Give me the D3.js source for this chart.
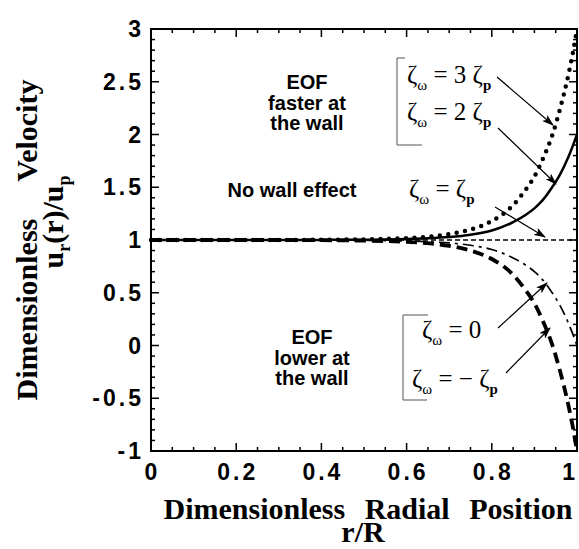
<!DOCTYPE html>
<html>
<head>
<meta charset="utf-8">
<script src="https://cdn.jsdelivr.net/npm/d3@7"></script>
<style>
  body { margin: 0; background: #fff; }
  svg { display: block; }
  .tick-label { font-family: "Liberation Sans", Arial, sans-serif; font-weight: bold; font-size: 23px; letter-spacing: 3px; }
  .axis-title { font-family: "Liberation Serif", "Times New Roman", serif; font-weight: bold; font-size: 30px; }
  .note { font-family: "Liberation Sans", Arial, sans-serif; font-weight: bold; font-size: 20px; }
  .zeta { font-family: "Liberation Serif", "Times New Roman", serif; font-size: 25px; }
</style>
</head>
<body>
<div id="chart"></div>
<script>
// radial positions r/R
var radius = [0, 0.1, 0.2, 0.3, 0.4, 0.5, 0.6, 0.65, 0.7, 0.75, 0.8, 0.85, 0.88, 0.9, 0.92, 0.94, 0.96, 0.98, 0.99, 1];

// velocity u_r(r)/u_p
var zeta3p  = [1, 1, 1, 1, 1.002, 1.006, 1.018, 1.03, 1.056, 1.1, 1.18, 1.33, 1.48, 1.6, 1.77, 1.97, 2.24, 2.57, 2.77, 3];
var zeta2p  = [1, 1, 1, 1, 1.001, 1.003, 1.009, 1.016, 1.028, 1.05, 1.09, 1.17, 1.24, 1.3, 1.38, 1.49, 1.62, 1.79, 1.89, 2];
var zetaP   = [1, 1, 1, 1, 1, 1, 1, 1, 1, 1, 1, 1, 1, 1, 1, 1, 1, 1, 1, 1];
var zeta0   = [1, 1, 1, 1, 0.999, 0.997, 0.991, 0.984, 0.972, 0.95, 0.91, 0.83, 0.76, 0.7, 0.62, 0.51, 0.38, 0.21, 0.11, 0];
var zetaNeg = [1, 1, 1, 1, 0.998, 0.994, 0.982, 0.97, 0.944, 0.9, 0.82, 0.67, 0.52, 0.4, 0.23, 0.03, -0.24, -0.57, -0.77, -1];

var xTicks = [0, 0.2, 0.4, 0.6, 0.8, 1];
var yTicks = [-1, -0.5, 0, 0.5, 1, 1.5, 2, 2.5, 3];

var width = 579, height = 549,
    margins = {top: 29, left: 151, right: 2, bottom: 98};

var svg = d3.select("#chart").append("svg")
    .attr("width", width)
    .attr("height", height);

var x = d3.scaleLinear().domain([0, 1]).range([margins.left, width - margins.right]);
var y = d3.scaleLinear().domain([-1, 3]).range([height - margins.bottom, margins.top]);

function tickLen(v, major) {
    return Math.abs(v / major - Math.round(v / major)) < 1e-6 ? 8 : 4;
}

// minor + major ticks, all pointing inward
var xMinor = d3.range(0, 1.0001, 0.05);
var yMinor = d3.range(-1, 3.0001, 0.1);
var ticksG = svg.append("g").attr("stroke", "#000").attr("stroke-width", 1.5);

xMinor.forEach(function (v) {
    var l = tickLen(v, 0.2);
    ticksG.append("line").attr("x1", x(v)).attr("x2", x(v))
        .attr("y1", y(-1)).attr("y2", y(-1) - l);
    ticksG.append("line").attr("x1", x(v)).attr("x2", x(v))
        .attr("y1", y(3)).attr("y2", y(3) + l);
});
yMinor.forEach(function (v) {
    var l = tickLen(v, 0.5);
    ticksG.append("line").attr("x1", x(0)).attr("x2", x(0) + l)
        .attr("y1", y(v)).attr("y2", y(v));
    ticksG.append("line").attr("x1", x(1)).attr("x2", x(1) - l)
        .attr("y1", y(v)).attr("y2", y(v));
});

// frame
svg.append("rect")
    .attr("x", x(0)).attr("y", y(3))
    .attr("width", x(1) - x(0)).attr("height", y(-1) - y(3))
    .attr("fill", "none").attr("stroke", "#000").attr("stroke-width", 2);

// tick labels
svg.selectAll("text.xt").data(xTicks).enter().append("text")
    .attr("class", "tick-label xt")
    .attr("x", function (d) { return d === 1 ? width - 1 : x(d) + 1.5; })
    .attr("y", 480)
    .attr("letter-spacing", function (d) { return d === 1 ? 0 : null; })
    .attr("text-anchor", function (d) { return d === 1 ? "end" : "middle"; })
    .text(function (d) { return String(d); });

svg.selectAll("text.yt").data(yTicks).enter().append("text")
    .attr("class", "tick-label yt")
    .attr("x", 144)
    .attr("y", function (d) { return y(d) + 8; })
    .attr("text-anchor", "end")
    .text(function (d) { return String(d); });

// axis titles
svg.append("text").attr("class", "axis-title")
    .attr("x", 368).attr("y", 519)
    .attr("text-anchor", "middle")
    .attr("word-spacing", "12px")
    .text("Dimensionless Radial Position");
svg.append("text").attr("class", "axis-title")
    .attr("x", 363).attr("y", 542)
    .attr("font-size", 26)
    .attr("text-anchor", "middle")
    .text("r/R");

var yTitle = svg.append("g").attr("transform", "translate(37,240) rotate(-90)");
yTitle.append("text").attr("class", "axis-title")
    .attr("text-anchor", "middle")
    .attr("word-spacing", "30px")
    .text("Dimensionless Velocity");
var uText = yTitle.append("text").attr("class", "axis-title")
    .attr("x", 18).attr("y", 26)
    .attr("text-anchor", "middle");
uText.append("tspan").text("u");
uText.append("tspan").attr("dy", 7).attr("font-size", 18).text("r");
uText.append("tspan").attr("dy", -7).text("(r)/u");
uText.append("tspan").attr("dy", 7).attr("font-size", 18).text("p");

// curves
var line = d3.line()
    .x(function (d) { return x(d[0]); })
    .y(function (d) { return y(d[1]); })
    .curve(d3.curveMonotoneX);

var series = [
    {values: zetaP,   width: 1.3, dash: "5,3",          cap: "butt"},
    {values: zeta2p,  width: 2.5, dash: null,           cap: "butt"},
    {values: zeta3p,  width: 4.5, dash: "0,8.5",        cap: "round"},
    {values: zeta0,   width: 1.7, dash: "11,5,3,5",     cap: "butt"},
    {values: zetaNeg, width: 3.8, dash: "11,6",         cap: "butt"}
];

svg.append("g").selectAll("path").data(series).enter().append("path")
    .attr("d", function (s) { return line(d3.zip(radius, s.values)); })
    .attr("fill", "none")
    .attr("stroke", "#000")
    .attr("stroke-width", function (s) { return s.width; })
    .attr("stroke-dasharray", function (s) { return s.dash; })
    .attr("stroke-linecap", function (s) { return s.cap; });

// region notes
function note(lines, cx, y0, gap) {
    lines.forEach(function (t, i) {
        svg.append("text").attr("class", "note")
            .attr("x", cx).attr("y", y0 + i * gap)
            .attr("text-anchor", "middle")
            .text(t);
    });
}
note(["EOF", "faster at", "the wall"], 307, 89, 20.5);
note(["No wall effect"], 292, 197, 0);
note(["EOF", "lower at", "the wall"], 312, 344, 20.5);

// zeta labels
function zetaLabel(px, py, rhs) {
    var t = svg.append("text").attr("class", "zeta").attr("x", px).attr("y", py);
    t.append("tspan").text("ζ");
    t.append("tspan").attr("dy", 7).attr("font-size", 15).text("ω");
    t.append("tspan").attr("dy", -7).text(" = " + rhs.pre);
    if (rhs.p) {
        t.append("tspan").text("ζ");
        t.append("tspan").attr("dy", 7).attr("font-size", 15).attr("font-weight", "bold").text("p");
    }
}
zetaLabel(407, 83, {pre: "3 ", p: true});
zetaLabel(407, 120, {pre: "2 ", p: true});
zetaLabel(409, 197, {pre: "", p: true});
zetaLabel(422, 338, {pre: "0", p: false});
zetaLabel(412, 387, {pre: "\u2212 ", p: true});

// brackets
var brackets = svg.append("g").attr("fill", "none").attr("stroke", "#555").attr("stroke-width", 1);
brackets.append("path").attr("d", "M405,58 H397 V145 H422");
brackets.append("path").attr("d", "M428,315 H403 V400 H427");

// arrows
svg.append("defs").append("marker")
    .attr("id", "head")
    .attr("markerUnits", "userSpaceOnUse")
    .attr("markerWidth", 12).attr("markerHeight", 8)
    .attr("refX", 11).attr("refY", 4)
    .attr("orient", "auto")
    .append("path").attr("d", "M0,0 L12,4 L0,8 L3,4 z").attr("fill", "#000");

var arrows = [
    [497, 77, 553, 125],
    [498, 128, 556, 184],
    [495, 207, 545, 237],
    [498, 328, 547, 283],
    [506, 373, 550, 328]
];
svg.append("g").selectAll("line").data(arrows).enter().append("line")
    .attr("x1", function (d) { return d[0]; })
    .attr("y1", function (d) { return d[1]; })
    .attr("x2", function (d) { return d[2]; })
    .attr("y2", function (d) { return d[3]; })
    .attr("stroke", "#000")
    .attr("stroke-width", 1.2)
    .attr("marker-end", "url(#head)");
</script>
</body>
</html>
